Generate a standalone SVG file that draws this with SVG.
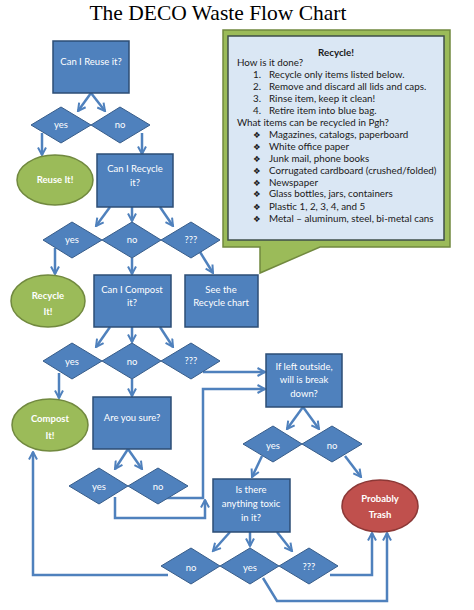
<svg xmlns="http://www.w3.org/2000/svg" width="474" height="610" viewBox="0 0 474 610">
<defs>
<marker id="arr" viewBox="0 0 10 10" refX="8.5" refY="5" markerWidth="10" markerHeight="10" markerUnits="userSpaceOnUse" orient="auto">
<path d="M1,1 L8.5,5 L1,9" fill="none" stroke="#4f81bd" stroke-width="2"/>
</marker>
</defs>
<style>
.t{font-family:"Lato","Liberation Sans",sans-serif;font-size:9.5px;fill:#fff;text-anchor:middle}
.b{font-weight:bold}
.box{fill:#4f81bd;stroke:#2c4d75;stroke-width:1.5}
.dia{fill:#4f81bd;stroke:#385d8a;stroke-width:1}
.grn{fill:#9bbb59;stroke:#71893f;stroke-width:1.5}
.red{fill:#c0504d;stroke:#8c3836;stroke-width:1.5}
.c{fill:none;stroke:#4f81bd;stroke-width:2.5;marker-end:url(#arr)}
.k{font-family:"Lato","Liberation Sans",sans-serif;font-size:9.8px;fill:#1a1a1a}
</style>
<rect width="474" height="610" fill="#fff"/>
<text x="218" y="20" font-family="Liberation Serif,serif" font-size="21.5" fill="#000" text-anchor="middle">The DECO Waste Flow Chart</text>

<g id="callout">
<path d="M223,30 H450 V247 H320 L260,273 V247 H223 Z" fill="#9bbb59" stroke="#71893f" stroke-width="1.5"/>
<rect x="228" y="36" width="216" height="204" fill="#dae7f4" stroke="#3f4f4a" stroke-width="1.5"/>
<text x="336" y="56" class="k b" text-anchor="middle" font-size="10.5">Recycle!</text>
<text x="237" y="66" class="k">How is it done?</text>
<text x="253" y="78" class="k">1.</text><text x="269" y="78" class="k">Recycle only items listed below.</text>
<text x="253" y="90" class="k">2.</text><text x="269" y="90" class="k">Remove and discard all lids and caps.</text>
<text x="253" y="102" class="k">3.</text><text x="269" y="102" class="k">Rinse item, keep it clean!</text>
<text x="253" y="114" class="k">4.</text><text x="269" y="114" class="k">Retire item into blue bag.</text>
<text x="237" y="126" class="k">What items can be recycled in Pgh?</text>
<g font-family="DejaVu Sans,sans-serif" font-size="8.5" fill="#1a1a1a">
<text x="253" y="138">❖</text><text x="253" y="150">❖</text><text x="253" y="162">❖</text><text x="253" y="174">❖</text>
<text x="253" y="186">❖</text><text x="253" y="197">❖</text><text x="253" y="210">❖</text><text x="253" y="222">❖</text>
</g>
<text x="269" y="138" class="k">Magazines, catalogs, paperboard</text>
<text x="269" y="150" class="k">White office paper</text>
<text x="269" y="162" class="k">Junk mail, phone books</text>
<text x="269" y="174" class="k">Corrugated cardboard (crushed/folded)</text>
<text x="269" y="186" class="k">Newspaper</text>
<text x="269" y="197" class="k">Glass bottles, jars, containers</text>
<text x="269" y="210" class="k">Plastic 1, 2, 3, 4, and 5</text>
<text x="269" y="222" class="k">Metal – aluminum, steel, bi-metal cans</text>
</g>

<g id="connectors">
<line class="c" x1="91" y1="93" x2="78" y2="111"/>
<line class="c" x1="91" y1="93" x2="105" y2="111"/>
<line class="c" x1="42" y1="133" x2="42" y2="155"/>
<line class="c" x1="142" y1="133" x2="142" y2="154"/>
<line class="c" x1="110" y1="207" x2="96" y2="226"/>
<line class="c" x1="132" y1="207" x2="132" y2="221"/>
<line class="c" x1="160" y1="207" x2="173" y2="226"/>
<line class="c" x1="55" y1="248" x2="55" y2="274"/>
<line class="c" x1="132" y1="258" x2="132" y2="274"/>
<line class="c" x1="200" y1="252" x2="213" y2="273"/>
<line class="c" x1="110" y1="327" x2="96" y2="347"/>
<line class="c" x1="132" y1="327" x2="132" y2="342"/>
<line class="c" x1="160" y1="327" x2="173" y2="347"/>
<line class="c" x1="59" y1="373" x2="59" y2="398"/>
<line class="c" x1="132" y1="379" x2="132" y2="396"/>
<polyline class="c" points="203,372 265,372"/>
<line class="c" x1="128" y1="449" x2="115" y2="469"/>
<line class="c" x1="128" y1="449" x2="142" y2="469"/>
<polyline class="c" points="163,498 203,498 203,389 265,389"/>
<polyline class="c" points="115,497 115,518 205,518 205,500"/>
<line class="c" x1="303" y1="407" x2="287" y2="429"/>
<line class="c" x1="303" y1="407" x2="319" y2="429"/>
<line class="c" x1="262" y1="456" x2="252" y2="477"/>
<line class="c" x1="345" y1="456" x2="361" y2="477"/>
<line class="c" x1="230" y1="532" x2="213" y2="551"/>
<line class="c" x1="250" y1="532" x2="250" y2="546"/>
<line class="c" x1="277" y1="532" x2="292" y2="551"/>
<polyline class="c" points="168,575 33,575 33,452"/>
<polyline class="c" points="330,575 372,575 372,533"/>
<polyline class="c" points="263,578 277,601 387,601 387,533"/>
</g>

<g id="reuse-q"><rect class="box" x="53" y="41" width="76" height="52"/><text class="t" x="91" y="65">Can I Reuse it?</text></g>
<g id="d1-yes"><polygon class="dia" points="31,125 61,107 91,125 61,143"/><text class="t" x="61" y="128">yes</text></g>
<g id="d1-no"><polygon class="dia" points="91,125 120,107 150,125 120,143"/><text class="t" x="120" y="128">no</text></g>
<g id="reuse-it"><ellipse class="grn" cx="55" cy="180" rx="38" ry="25"/><text class="t b" x="55" y="183">Reuse It!</text></g>
<g id="recycle-q"><rect class="box" x="97" y="154" width="76" height="53"/><text class="t" x="135" y="172">Can I Recycle</text><text class="t" x="135" y="186">it?</text></g>
<g id="d2-yes"><polygon class="dia" points="43,240 72,222 102,240 72,258"/><text class="t" x="72" y="243">yes</text></g>
<g id="d2-no"><polygon class="dia" points="102,240 132,222 161,240 132,258"/><text class="t" x="132" y="243">no</text></g>
<g id="d2-q"><polygon class="dia" points="161,240 191,222 220,240 191,258"/><text class="t" x="191" y="243">???</text></g>
<g id="recycle-it"><ellipse class="grn" cx="48" cy="301" rx="37" ry="26"/><text class="t b" x="48" y="299">Recycle</text><text class="t b" x="48" y="315">It!</text></g>
<g id="compost-q"><rect class="box" x="94" y="275" width="77" height="52"/><text class="t" x="132" y="293">Can I Compost</text><text class="t" x="132" y="306">it?</text></g>
<g id="see-chart"><rect class="box" x="185" y="275" width="73" height="52"/><text class="t" x="221" y="293">See the</text><text class="t" x="221" y="306">Recycle chart</text></g>
<g id="d3-yes"><polygon class="dia" points="43,361 72,343 102,361 72,379"/><text class="t" x="72" y="365">yes</text></g>
<g id="d3-no"><polygon class="dia" points="102,361 132,343 161,361 132,379"/><text class="t" x="132" y="365">no</text></g>
<g id="d3-q"><polygon class="dia" points="161,361 191,343 220,361 191,379"/><text class="t" x="191" y="364">???</text></g>
<g id="compost-it"><ellipse class="grn" cx="50" cy="425" rx="38" ry="26"/><text class="t b" x="50" y="422">Compost</text><text class="t b" x="50" y="439">It!</text></g>
<g id="sure-q"><rect class="box" x="93" y="397" width="78" height="52"/><text class="t" x="132" y="421">Are you sure?</text></g>
<g id="d4-yes"><polygon class="dia" points="69,486 99,468 128,486 99,504"/><text class="t" x="99" y="490">yes</text></g>
<g id="d4-no"><polygon class="dia" points="128,486 158,468 188,486 158,504"/><text class="t" x="158" y="490">no</text></g>
<g id="outside-q"><rect class="box" x="266" y="354" width="76" height="53"/><text class="t" x="304" y="370">If left outside,</text><text class="t" x="304" y="383">will is break</text><text class="t" x="304" y="397">down?</text></g>
<g id="d5-yes"><polygon class="dia" points="243,444 273,426 302,444 273,462"/><text class="t" x="273" y="449">yes</text></g>
<g id="d5-no"><polygon class="dia" points="302,444 332,426 362,444 332,462"/><text class="t" x="332" y="449">no</text></g>
<g id="toxic-q"><rect class="box" x="213" y="479" width="77" height="53"/><text class="t" x="251" y="493">Is there</text><text class="t" x="251" y="507">anything toxic</text><text class="t" x="251" y="521">in it?</text></g>
<g id="trash"><ellipse class="red" cx="380" cy="506" rx="38" ry="26"/><text class="t b" x="380" y="502">Probably</text><text class="t b" x="380" y="518">Trash</text></g>
<g id="d6-no"><polygon class="dia" points="161,566 191,548 220,566 191,584"/><text class="t" x="191" y="571">no</text></g>
<g id="d6-yes"><polygon class="dia" points="220,566 250,548 279,566 250,584"/><text class="t" x="250" y="571">yes</text></g>
<g id="d6-q"><polygon class="dia" points="279,566 309,548 338,566 309,584"/><text class="t" x="309" y="570">???</text></g>
</svg>
